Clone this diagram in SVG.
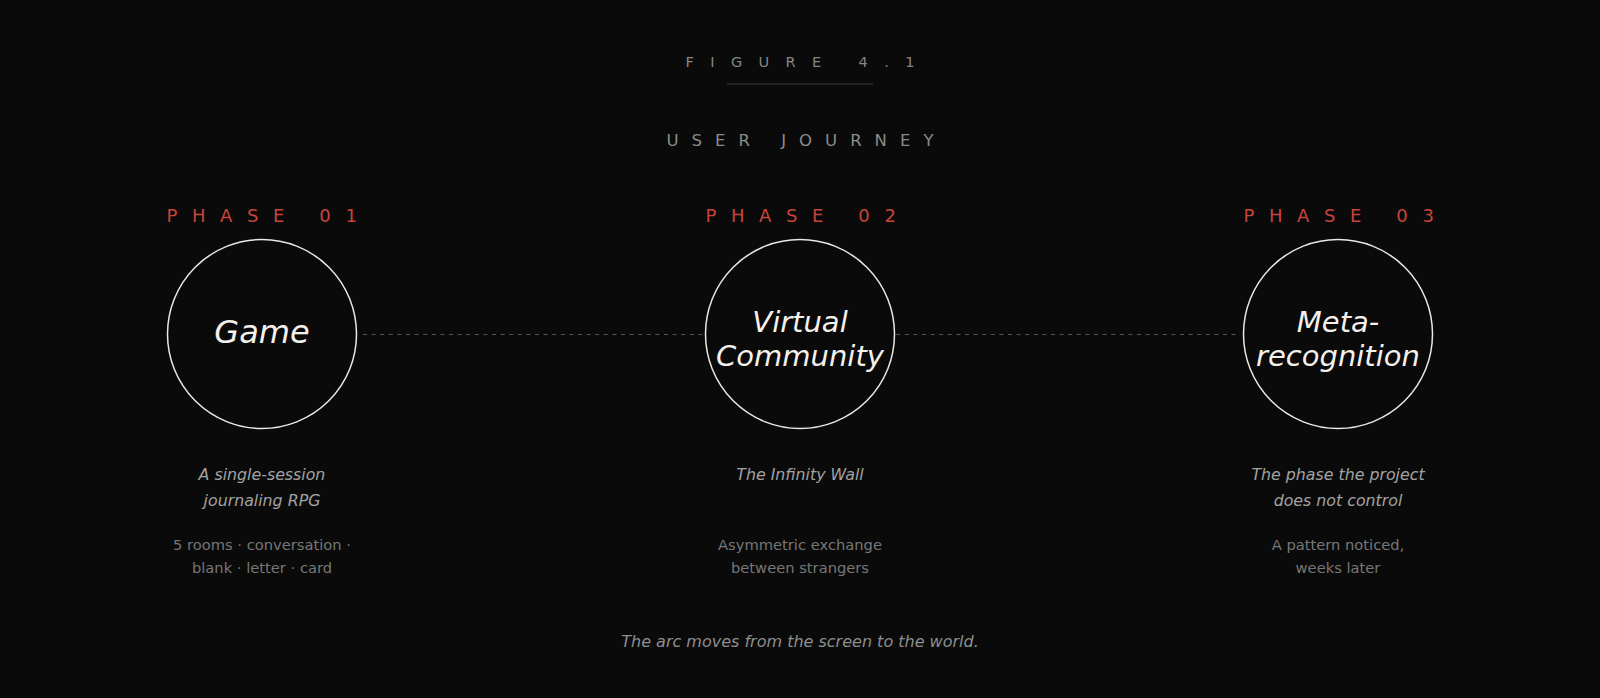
<svg xmlns="http://www.w3.org/2000/svg" width="1600" height="698" viewBox="0 0 1600 698">
<style>
.fig{font-family:"DejaVu Sans",sans-serif;font-size:14.5px;fill:#858585;letter-spacing:16.4px}
.ttl{font-family:"DejaVu Sans",sans-serif;font-size:16.5px;fill:#8a8a8a;letter-spacing:13px}
.ph{font-family:"DejaVu Sans",sans-serif;font-size:18px;fill:#c8443a;letter-spacing:14.6px}
.ring{fill:#0a0a0a;stroke:#ebe8e2;stroke-width:1.5}
.nm{font-family:"DejaVu Sans",sans-serif;font-style:italic;fill:#f4f1ec;text-anchor:middle}
.sub{font-family:"DejaVu Sans",sans-serif;font-style:italic;font-size:15.8px;fill:#a2a2a2;text-anchor:middle}
.det{font-family:"DejaVu Sans",sans-serif;font-size:14.7px;fill:#777777;text-anchor:middle}
.cap{font-family:"DejaVu Sans",sans-serif;font-style:italic;font-size:16px;fill:#8e8e8e;text-anchor:middle}
.link{stroke:#565656;stroke-width:1;stroke-dasharray:4 4.6;fill:none}
</style>
<rect width="1600" height="698" fill="#0a0a0a"/>
<g id="header">
<text class="fig" x="808.2" y="67" text-anchor="middle">FIGURE 4.1</text>
<line x1="727" y1="84" x2="873" y2="84" stroke="#3a3a3a" stroke-width="1"/>
<text class="ttl" x="806.5" y="146" text-anchor="middle">USER JOURNEY</text>
</g>
<g id="connectors">
<line class="link" x1="363" y1="334.5" x2="1237" y2="334.5"/>
</g>
<g id="phase1">
<text class="ph" x="269" y="222" text-anchor="middle">PHASE 01</text>
<circle class="ring" cx="262" cy="334" r="94.5"/>
<text class="nm" x="262" y="343" font-size="32">Game</text>
<text class="sub" x="262" y="480">A single-session</text>
<text class="sub" x="262" y="505.7">journaling RPG</text>
<text class="det" x="262" y="550">5 rooms · conversation ·</text>
<text class="det" x="262" y="572.7">blank · letter · card</text>
</g>
<g id="phase2">
<text class="ph" x="808" y="222" text-anchor="middle">PHASE 02</text>
<circle class="ring" cx="800" cy="334" r="94.5"/>
<text class="nm" x="800" y="331.7" font-size="29">Virtual</text>
<text class="nm" x="800" y="366" font-size="29">Community</text>
<text class="sub" x="800" y="480">The Infinity Wall</text>
<text class="det" x="800" y="550">Asymmetric exchange</text>
<text class="det" x="800" y="572.7">between strangers</text>
</g>
<g id="phase3">
<text class="ph" x="1346" y="222" text-anchor="middle">PHASE 03</text>
<circle class="ring" cx="1338" cy="334" r="94.5"/>
<text class="nm" x="1338" y="331.7" font-size="29">Meta-</text>
<text class="nm" x="1338" y="366" font-size="29">recognition</text>
<text class="sub" x="1338" y="480">The phase the project</text>
<text class="sub" x="1338" y="505.7">does not control</text>
<text class="det" x="1338" y="550">A pattern noticed,</text>
<text class="det" x="1338" y="572.7">weeks later</text>
</g>
<g id="caption">
<text class="cap" x="800" y="646.7">The arc moves from the screen to the world.</text>
</g>
</svg>
